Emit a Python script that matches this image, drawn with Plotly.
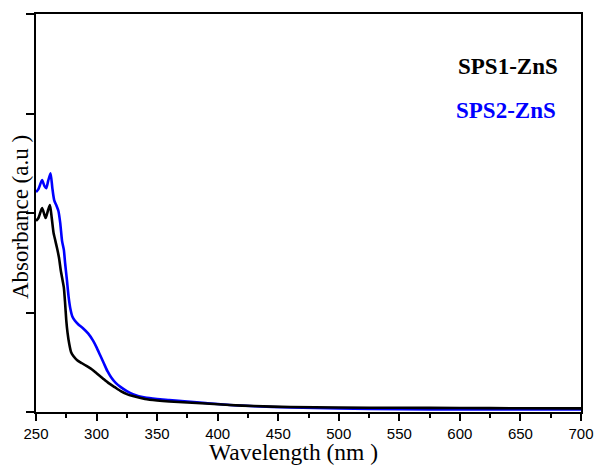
import plotly.graph_objects as go

# UV-Vis absorbance spectra

wl_sps1 = [250, 252, 255, 257, 258, 260, 261.5, 263, 264.5, 266, 267.5, 269, 270.5,
           272, 273, 274, 275, 276, 277.5, 279, 281, 284, 288, 292, 296, 300, 305,
           310, 315, 320, 325, 330, 340, 350, 360, 375, 390, 410, 430, 460, 500,
           550, 600, 650, 700]
abs_sps1 = [1.92, 1.95, 2.05, 1.98, 1.95, 2.03, 2.08, 1.95, 1.80, 1.72, 1.64, 1.55, 1.42,
            1.32, 1.25, 1.10, 0.92, 0.80, 0.68, 0.60, 0.56, 0.52, 0.49, 0.46, 0.43, 0.39, 0.34,
            0.29, 0.25, 0.21, 0.18, 0.16, 0.13, 0.115, 0.105, 0.095, 0.085, 0.07, 0.06, 0.05, 0.045,
            0.042, 0.04, 0.038, 0.036]

wl_sps2 = [250, 252, 255, 257, 258.5, 260, 262, 263.5, 265, 267, 268.5, 270, 271.5,
           273, 274, 275.5, 277, 278.5, 280, 282, 285, 289, 293, 297, 300, 303, 306,
           309, 312, 316, 320, 325, 330, 340, 350, 360, 375, 390, 410, 430, 460,
           500, 550, 600, 650, 700]
abs_sps2 = [2.21, 2.24, 2.33, 2.27, 2.25, 2.32, 2.40, 2.25, 2.13, 2.07, 2.02, 1.90, 1.72,
            1.63, 1.50, 1.33, 1.15, 1.03, 0.96, 0.92, 0.88, 0.84, 0.79, 0.72, 0.65, 0.57, 0.49,
            0.41, 0.35, 0.29, 0.25, 0.21, 0.18, 0.145, 0.13, 0.12, 0.105, 0.09, 0.07, 0.058, 0.045,
            0.035, 0.028, 0.026, 0.025, 0.025]

x_ticks = [250, 300, 350, 400, 450, 500, 550, 600, 650, 700]
y_ticks = [0, 1, 2, 3, 4]

w, h = 597, 466
ml, mr, mt, mb = 36, 16, 14, 54


def px_to_paper(px, py):
    """pixel position in the picture -> paper coords"""
    return (px - ml) / (w - ml - mr), (h - mb - py) / (h - mt - mb)


fig = go.Figure()
fig.add_trace(go.Scatter(x=wl_sps2, y=abs_sps2, mode="lines", name="SPS2-ZnS",
                         line=dict(color="#0000ff", width=2.6, shape="spline", smoothing=0.6)))
fig.add_trace(go.Scatter(x=wl_sps1, y=abs_sps1, mode="lines", name="SPS1-ZnS",
                         line=dict(color="black", width=2.6, shape="spline", smoothing=0.6)))

# legend as plain coloured labels
for label, color, (px, py) in [("SPS1-ZnS", "black", (508, 66)),
                               ("SPS2-ZnS", "#0000ff", (506, 110))]:
    ax, ay = px_to_paper(px, py)
    fig.add_annotation(x=ax, y=ay, xref="paper", yref="paper", text=f"<b>{label}</b>",
                       showarrow=False, xanchor="center", yanchor="middle",
                       font=dict(family="Liberation Serif", size=23, color=color))

# axis titles placed by hand (x title sits a bit left of centre in the original)
ax, ay = px_to_paper(293, 452)
fig.add_annotation(x=ax, y=ay, xref="paper", yref="paper", text="Wavelength (nm )",
                   showarrow=False, xanchor="center", yanchor="middle",
                   font=dict(family="Liberation Serif", size=23.5, color="black"))
ax, ay = px_to_paper(20, 217)
fig.add_annotation(x=ax, y=ay, xref="paper", yref="paper", text="Absorbance (a.u )",
                   showarrow=False, textangle=-90, xanchor="center", yanchor="middle",
                   font=dict(family="Liberation Serif", size=23, color="black"))

fig.update_layout(
    width=w, height=h,
    margin=dict(l=ml, r=mr, t=mt, b=mb, autoexpand=False),
    plot_bgcolor="white", paper_bgcolor="white",
    showlegend=False,
    xaxis=dict(
        range=[250, 700], tickvals=x_ticks, ticks="outside", ticklen=7, tickwidth=1.5,
        tickcolor="black", showline=True, linecolor="black", linewidth=2, mirror=True,
        showgrid=False, zeroline=False,
        tickfont=dict(family="Liberation Sans", size=15, color="black"),
        minor=dict(dtick=25, ticks="outside", ticklen=4, tickwidth=1.5, tickcolor="black"),
    ),
    yaxis=dict(
        range=[0, 4], tickvals=y_ticks, showticklabels=False, ticks="outside",
        ticklen=8, tickwidth=1.5, tickcolor="black", showline=True, linecolor="black",
        linewidth=2, mirror=True, showgrid=False, zeroline=False,
    ),
)

# drop the default body margin so the figure sits at the window's corner
fig.write_html("out.html",
               post_script="document.body.style.margin='0';document.body.style.overflow='hidden';",
               config={"displayModeBar": False})
